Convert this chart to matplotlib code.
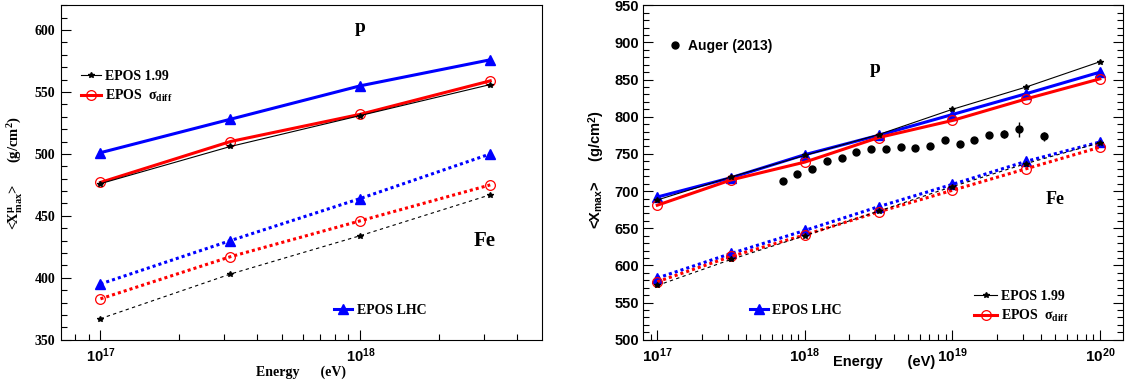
import numpy as np
import matplotlib
matplotlib.use('Agg')
import matplotlib.pyplot as plt
from matplotlib.ticker import LogLocator, MultipleLocator, NullFormatter, FuncFormatter
from matplotlib.lines import Line2D

plt.rcParams['font.weight'] = 'bold'
plt.rcParams['axes.linewidth'] = 0.8
plt.rcParams['mathtext.fontset'] = 'custom'
plt.rcParams['mathtext.bf'] = 'Liberation Serif:bold'
plt.rcParams['mathtext.rm'] = 'Liberation Serif:bold'
plt.rcParams['mathtext.it'] = 'Liberation Serif:bold'
plt.rcParams['mathtext.sf'] = 'Liberation Sans:bold'
plt.rcParams['mathtext.default'] = 'bf'

# --- left panel: <X^mu_max> ---
lgE_left = [17.0, 17.5, 18.0, 18.5]
p_lhc_left = [501, 528, 555, 576]
p_sig_left = [477, 510, 532, 559]
p_199_left = [476, 506, 531, 556]
fe_lhc_left = [395, 430, 464, 500]
fe_sig_left = [383, 417, 446, 475]
fe_199_left = [367, 403, 434, 467]

# --- right panel: <X_max> ---
lgE_right = [17.0, 17.5, 18.0, 18.5, 19.0, 19.5, 20.0]
p_lhc_right = [692, 718, 749, 775, 803, 831, 860]
p_sig_right = [681, 715, 739, 772, 795, 824, 851]
p_199_right = [688, 719, 748, 776, 810, 840, 874]
fe_lhc_right = [583, 616, 647, 679, 709, 740, 766]
fe_sig_right = [578, 612, 641, 672, 701, 730, 759]
fe_199_right = [573, 608, 640, 673, 706, 737, 765]

# Auger (2013) data
lgE_auger = [17.85, 17.95, 18.05, 18.15, 18.25, 18.35, 18.45, 18.55, 18.65,
             18.75, 18.85, 18.95, 19.05, 19.15, 19.25, 19.35, 19.45, 19.62]
xmax_auger = [714, 723, 730, 740, 745, 752, 757, 757, 759,
              758, 761, 769, 763, 769, 776, 777, 783, 774]
err_auger = [2, 2, 2, 2, 2, 2, 2, 2, 2, 2, 2, 2, 3, 3, 4, 5, 10, 6]

E_left = 10.0 ** np.array(lgE_left)
E_right = 10.0 ** np.array(lgE_right)
E_auger = 10.0 ** np.array(lgE_auger)

SERIF = 'Liberation Serif'
SANS = 'Liberation Sans'

fig = plt.figure(figsize=(11.26, 3.82), dpi=100)
axL = fig.add_axes([60.7 / 1126, 42.3 / 382, 481 / 1126, 334.4 / 382])
axR = fig.add_axes([643.3 / 1126, 42.3 / 382, 479.7 / 1126, 334.4 / 382])

sty_p = dict(lw=2.2)
sty_fe = dict(lw=2.2, ls=(0, (1, 1)))
sty_p199 = dict(lw=0.8)
sty_fe199 = dict(lw=0.8, ls=(0, (3, 3)))
m_lhc = dict(marker='^', ms=6.5, color='#0000ff')
m_sig = dict(marker='o', ms=7, mfc='none', mec='#ff0000', mew=0.9, color='#ff0000')
m_199 = dict(marker='*', ms=4, color='k')


def draw(ax, E, p_lhc, p_sig, p_199, fe_lhc, fe_sig, fe_199):
    ax.plot(E, fe_lhc, **sty_fe, **m_lhc)
    ax.plot(E, fe_sig, **sty_fe, **m_sig)
    ax.plot(E, fe_199, **sty_fe199, **m_199)
    ax.plot(E, p_lhc, **sty_p, **m_lhc)
    ax.plot(E, p_sig, **sty_p, **m_sig)
    ax.plot(E, p_199, **sty_p199, **m_199)


draw(axL, E_left, p_lhc_left, p_sig_left, p_199_left,
     fe_lhc_left, fe_sig_left, fe_199_left)
draw(axR, E_right, p_lhc_right, p_sig_right, p_199_right,
     fe_lhc_right, fe_sig_right, fe_199_right)
axR.errorbar(E_auger, xmax_auger, yerr=err_auger, fmt='o', color='k',
             ms=5, elinewidth=1, capsize=0)

decade = FuncFormatter(lambda v, pos: r'$\mathsf{10^{%d}}$' % round(np.log10(v)))

for ax in (axL, axR):
    ax.set_xscale('log')
    ax.xaxis.set_major_locator(LogLocator(base=10))
    ax.xaxis.set_minor_locator(LogLocator(base=10, subs=np.arange(2, 10)))
    ax.xaxis.set_major_formatter(decade)
    ax.xaxis.set_minor_formatter(NullFormatter())
    ax.yaxis.set_major_locator(MultipleLocator(50))
    ax.yaxis.set_minor_locator(MultipleLocator(10))
    ax.tick_params(which='both', direction='in', top=False, width=0.8)
    ax.tick_params(which='major', length=7)
    ax.tick_params(which='minor', length=4)

axL.set_xlim(10 ** 16.847, 10 ** 18.698)
axL.set_ylim(350, 620)
axL.tick_params(right=False)
axL.tick_params(axis='x', labelsize=10.5, pad=5)
axL.tick_params(axis='y', labelsize=10, pad=4, labelfontfamily=SERIF)

axR.set_xlim(10 ** 16.905, 10 ** 20.157)
axR.set_ylim(500, 950)
axR.tick_params(which='both', right=True)
axR.tick_params(axis='x', labelsize=11, pad=4.5)
axR.tick_params(axis='y', labelsize=10.5, pad=3, labelfontfamily=SANS)

# axis titles
axL.text(0.5, -0.096, 'Energy      (eV)', transform=axL.transAxes,
         ha='center', va='center', fontsize=10, family=SERIF)
axL.text(-0.095, 0.4985, r'<X$^{\mu}_{max}$>      (g/cm$^{2}$)',
         transform=axL.transAxes, rotation=90, ha='center', va='center',
         fontsize=10.5, family=SERIF)
axR.text(0.502, -0.067, 'Energy      (eV)', transform=axR.transAxes,
         ha='center', va='center', fontsize=10.5, family=SANS)
axR.text(-0.0965, 0.508, r'<X$_{\mathsf{max}}$>     (g/cm$^{\mathsf{2}}$)',
         transform=axR.transAxes, rotation=90, ha='center', va='center',
         fontsize=10.5, family=SANS)

# primary labels
axL.text(1e18, 602, 'p', ha='center', va='center', fontsize=14, family=SERIF)
axL.text(10 ** 18.477, 430, 'Fe', ha='center', va='center', fontsize=15, family=SERIF)
axR.text(10 ** 18.475, 865, 'p', ha='center', va='center', fontsize=14, family=SERIF)
axR.text(10 ** 19.70, 689, 'Fe', ha='center', va='center', fontsize=13, family=SERIF)

# legends
h199 = Line2D([], [], lw=0.8, **m_199)
hsig = Line2D([], [], lw=2.2, **m_sig)
hlhc = Line2D([], [], lw=2.2, **m_lhc)
haug = Line2D([], [], ls='none', marker='o', ms=5, color='k')
lab199 = 'EPOS 1.99'
labsig = r'EPOS  $\sigma_{diff}$'
lablhc = 'EPOS LHC'
serif_prop = dict(family=SERIF, weight='bold', size=10)
common = dict(loc='center left', frameon=False, borderpad=0, borderaxespad=0,
              labelspacing=0.35, handleheight=0.7)

legA = axL.legend([h199, hsig], [lab199, labsig], bbox_to_anchor=(0.0416, 0.7566),
                  prop=serif_prop, handlelength=1.44, handletextpad=0.31, **common)
axL.add_artist(legA)
axL.legend([hlhc], [lablhc], bbox_to_anchor=(0.568, 0.0867),
           prop=serif_prop, handlelength=1.3, handletextpad=0.39, **common)

legB = axR.legend([h199, hsig], [lab199, labsig], bbox_to_anchor=(0.689, 0.0987),
                  prop=serif_prop, handlelength=1.7, handletextpad=0.29, **common)
axR.add_artist(legB)
legC = axR.legend([hlhc], [lablhc], bbox_to_anchor=(0.2224, 0.0888),
                  prop=serif_prop, handlelength=1.3, handletextpad=0.32, **common)
axR.add_artist(legC)
axR.legend([haug], ['Auger (2013)'], bbox_to_anchor=(0.0515, 0.878),
           prop=dict(family=SANS, weight='bold', size=10),
           handlelength=1.0, handletextpad=0.47, **common)

fig.savefig('out.png', dpi=100)
